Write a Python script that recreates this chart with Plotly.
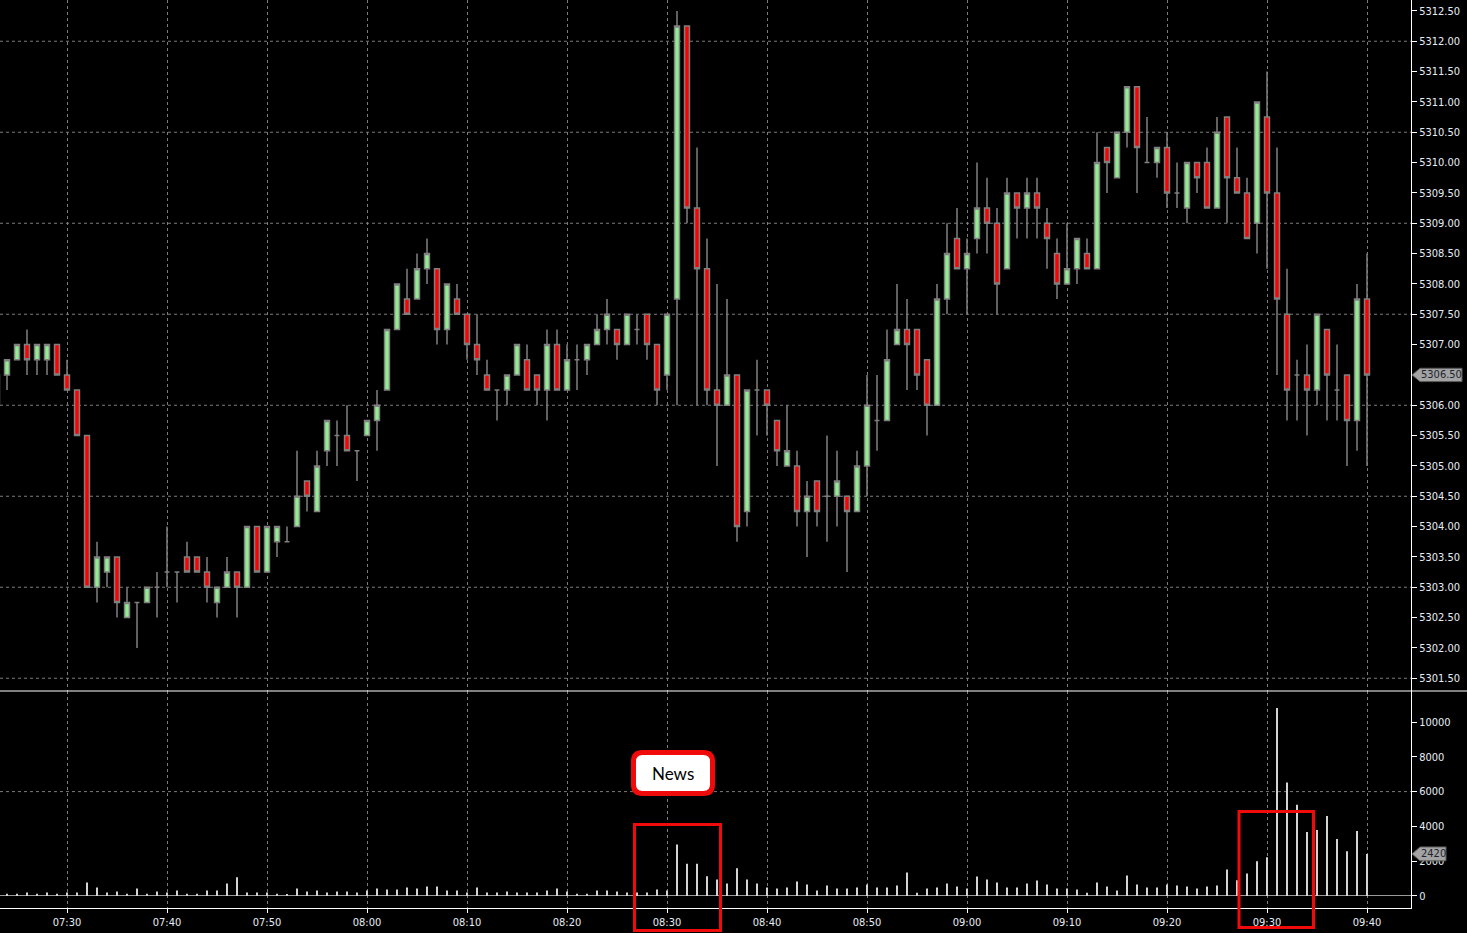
import pandas as pd
import plotly.graph_objects as go

# barras de 1 minuto, 07:23 a 09:40
inicio = "2024-06-05 07:23"

abertura = [
    5306.0, 5306.5, 5306.75, 5307.0, 5306.75, 5306.75, 5307.0,
    5306.5, 5306.25, 5305.5, 5303.0, 5303.25, 5303.5, 5302.5, 5302.75, 5302.75, 5303.0,
    5303.25, 5303.25, 5303.5, 5303.5, 5303.25, 5302.75, 5303.0, 5303.25, 5303.0, 5304.0,
    5303.25, 5303.75, 5303.75, 5304.0, 5304.75, 5304.25, 5305.25, 5305.5, 5305.5, 5305.25,
    5305.5, 5305.75, 5306.25, 5307.25, 5307.75, 5307.75, 5308.25, 5308.25, 5307.25, 5307.75,
    5307.5, 5307.0, 5306.5, 5306.25, 5306.25, 5306.5, 5306.75, 5306.5, 5306.25, 5307.0,
    5306.25, 5306.75, 5306.75, 5307.0, 5307.25, 5307.25, 5307.0, 5307.25, 5307.5, 5307.0,
    5306.5, 5307.75, 5312.25, 5309.25, 5308.25, 5306.25, 5306.0, 5306.5, 5304.25, 5306.25,
    5306.25, 5305.75, 5305.0, 5305.0, 5304.25, 5304.75, 5304.5, 5304.5, 5304.5, 5304.25,
    5305.0, 5305.75, 5305.75, 5307.0, 5307.25, 5307.25, 5306.75, 5306.0, 5307.75, 5308.75,
    5308.25, 5308.75, 5309.25, 5309.0, 5308.25, 5309.5, 5309.25, 5309.5, 5309.0, 5308.5,
    5308.0, 5308.25, 5308.5, 5308.25, 5310.25, 5309.75, 5310.5, 5311.25, 5310.0, 5310.0,
    5310.25, 5309.5, 5309.25, 5310.0, 5310.0, 5309.25, 5310.75, 5309.75, 5309.5, 5309.0,
    5310.75, 5309.5, 5307.5, 5306.5, 5306.5, 5306.25, 5307.25, 5306.25, 5306.5, 5305.75,
    5307.75,
]
maxima = [
    5306.5, 5306.75, 5307.0, 5307.25, 5307.0, 5307.0, 5307.0,
    5306.75, 5306.25, 5305.5, 5303.75, 5303.5, 5303.5, 5303.0, 5302.75, 5303.0, 5303.25,
    5304.0, 5303.25, 5303.75, 5303.5, 5303.5, 5303.0, 5303.5, 5303.25, 5304.0, 5304.0,
    5304.0, 5304.0, 5304.0, 5305.25, 5304.75, 5305.25, 5305.75, 5305.75, 5306.0, 5305.25,
    5305.75, 5306.25, 5307.25, 5308.0, 5308.25, 5308.5, 5308.75, 5308.25, 5308.0, 5308.0,
    5307.5, 5307.5, 5306.75, 5306.25, 5306.5, 5307.0, 5307.0, 5306.5, 5307.25, 5307.25,
    5307.0, 5307.0, 5307.0, 5307.5, 5307.75, 5307.25, 5307.5, 5307.5, 5307.5, 5307.0,
    5307.5, 5312.5, 5312.25, 5310.25, 5308.75, 5308.0, 5307.75, 5306.5, 5306.25, 5306.75,
    5306.25, 5305.75, 5306.0, 5305.25, 5304.75, 5304.75, 5305.5, 5305.25, 5304.5, 5305.25,
    5306.5, 5306.5, 5307.25, 5308.0, 5307.75, 5307.25, 5306.75, 5308.0, 5309.0, 5309.25,
    5308.75, 5310.0, 5309.75, 5309.25, 5309.75, 5309.5, 5309.75, 5309.75, 5309.25, 5308.75,
    5309.0, 5308.75, 5308.75, 5310.5, 5310.25, 5310.5, 5311.25, 5311.25, 5310.75, 5310.25,
    5310.5, 5310.0, 5310.0, 5310.0, 5310.25, 5310.75, 5310.75, 5310.25, 5309.75, 5311.0,
    5311.5, 5310.25, 5308.25, 5306.75, 5307.0, 5307.5, 5307.25, 5307.0, 5306.5, 5308.0,
    5308.5,
]
minima = [
    5306.0, 5306.25, 5306.75, 5306.5, 5306.5, 5306.5, 5306.5,
    5306.25, 5305.5, 5303.0, 5302.75, 5303.0, 5302.5, 5302.5, 5302.0, 5302.75, 5302.5,
    5303.0, 5302.75, 5303.25, 5303.25, 5302.75, 5302.5, 5303.0, 5302.5, 5303.0, 5303.25,
    5303.25, 5303.5, 5303.75, 5304.0, 5304.25, 5304.25, 5305.0, 5305.0, 5305.25, 5304.75,
    5305.5, 5305.25, 5306.25, 5307.25, 5307.5, 5307.75, 5308.0, 5307.0, 5307.0, 5307.5,
    5306.75, 5306.5, 5306.25, 5305.75, 5306.0, 5306.5, 5306.25, 5306.0, 5305.75, 5306.25,
    5306.25, 5306.25, 5306.5, 5307.0, 5307.0, 5306.75, 5307.0, 5307.0, 5306.75, 5306.0,
    5306.25, 5306.0, 5309.0, 5306.0, 5306.0, 5305.0, 5306.0, 5303.75, 5304.0, 5305.5,
    5305.5, 5305.0, 5305.0, 5304.0, 5303.5, 5304.0, 5303.75, 5304.0, 5303.25, 5304.25,
    5304.5, 5305.25, 5305.75, 5307.0, 5306.25, 5306.25, 5305.5, 5306.0, 5307.5, 5308.25,
    5307.5, 5308.5, 5308.5, 5307.5, 5308.25, 5308.75, 5308.75, 5308.75, 5308.25, 5307.75,
    5308.0, 5308.0, 5308.25, 5308.25, 5309.5, 5309.75, 5310.25, 5309.5, 5310.0, 5309.75,
    5309.25, 5309.25, 5309.0, 5309.5, 5309.25, 5309.25, 5309.0, 5309.5, 5308.75, 5308.5,
    5308.25, 5306.5, 5305.75, 5305.75, 5305.5, 5306.0, 5305.75, 5305.75, 5305.0, 5305.25,
    5305.0,
]
fechamento = [
    5306.5, 5306.75, 5307.0, 5306.75, 5307.0, 5307.0, 5306.5,
    5306.25, 5305.5, 5303.0, 5303.5, 5303.5, 5302.75, 5302.75, 5302.75, 5303.0, 5303.0,
    5303.25, 5303.25, 5303.25, 5303.25, 5303.0, 5303.0, 5303.25, 5303.0, 5304.0, 5303.25,
    5304.0, 5304.0, 5303.75, 5304.5, 5304.5, 5305.0, 5305.75, 5305.5, 5305.25, 5305.25,
    5305.75, 5306.0, 5307.25, 5308.0, 5307.5, 5308.25, 5308.5, 5307.25, 5308.0, 5307.5,
    5307.0, 5306.75, 5306.25, 5306.25, 5306.5, 5307.0, 5306.25, 5306.25, 5307.0, 5306.25,
    5306.75, 5306.75, 5307.0, 5307.25, 5307.5, 5307.0, 5307.5, 5307.25, 5307.0, 5306.25,
    5307.5, 5312.25, 5309.25, 5308.25, 5306.25, 5306.0, 5306.5, 5304.0, 5306.25, 5306.25,
    5306.0, 5305.25, 5305.25, 5304.25, 5304.5, 5304.25, 5304.5, 5304.75, 5304.25, 5305.0,
    5306.0, 5305.75, 5306.75, 5307.25, 5307.0, 5306.5, 5306.0, 5307.75, 5308.5, 5308.25,
    5308.5, 5309.25, 5309.0, 5308.0, 5309.5, 5309.25, 5309.5, 5309.25, 5308.75, 5308.0,
    5308.25, 5308.75, 5308.25, 5310.0, 5310.0, 5310.5, 5311.25, 5310.25, 5310.0, 5310.25,
    5309.5, 5309.5, 5310.0, 5309.75, 5309.25, 5310.5, 5309.75, 5309.5, 5308.75, 5311.0,
    5309.5, 5307.75, 5306.25, 5306.5, 5306.25, 5307.5, 5306.5, 5306.25, 5305.75, 5307.75,
    5306.5,
]
volume = [
    150, 136, 136, 195, 136, 195, 136,
    195, 195, 780, 487, 195, 253, 136, 429, 136, 253,
    195, 312, 136, 136, 312, 312, 721, 1072, 195, 195,
    195, 136, 78, 429, 253, 312, 195, 253, 253, 195,
    312, 429, 370, 370, 487, 429, 546, 546, 312, 312,
    195, 487, 195, 195, 253, 195, 195, 195, 312, 429,
    253, 136, 136, 312, 312, 253, 195, 195, 195, 370,
    312, 2963, 1852, 1852, 1130, 955, 721, 1590, 948, 716,
    484, 426, 484, 832, 658, 310, 600, 426, 426, 484,
    658, 484, 484, 600, 1354, 193, 426, 484, 716, 542,
    426, 1122, 948, 774, 484, 484, 716, 890, 658, 426,
    426, 368, 193, 774, 542, 310, 1180, 658, 484, 484,
    658, 600, 542, 426, 542, 600, 1528, 900, 1296, 1992,
    2224, 10812, 6518, 5242, 3675, 3791, 4603, 3269, 2573, 3733,
    2420,
]

precos_eixo = [5301.5 + 0.5 * i for i in range(23)]
volumes_eixo = [0, 2000, 4000, 6000, 8000, 10000]

horarios = pd.date_range(inicio, periods=len(fechamento), freq="min")

fonte_eixo = dict(family="Liberation Sans Narrow, Arial Narrow, DejaVu Sans Condensed, sans-serif",
                  size=11, color="#e6edf5")
grade = "#7c7c7c"
W, H = 1411, 908  # area de plotagem em px
corte = 217 / H   # divisao entre preco e volume

fig = go.Figure()
fig.add_trace(go.Candlestick(
    x=horarios, open=abertura, high=maxima, low=minima, close=fechamento,
    increasing=dict(fillcolor="#90ee90", line=dict(color="#808080", width=1.5)),
    decreasing=dict(fillcolor="#ff0000", line=dict(color="#808080", width=1.5)),
    whiskerwidth=0, xaxis="x", yaxis="y", hoverinfo="x+y",
))
fig.add_trace(go.Bar(
    x=horarios, y=volume, width=12000, marker_color="#d4d4d4",
    marker_line_width=0, xaxis="x", yaxis="y2",
))

ultimo = fechamento[-1]
preco_ticks = [p for p in precos_eixo if p != ultimo]

fig.update_layout(
    width=1467, height=933, autosize=False,
    paper_bgcolor="black", plot_bgcolor="black",
    showlegend=False,
    margin=dict(l=0, r=56, t=0, b=25),
    xaxis=dict(
        domain=[0, 1], anchor="y2", type="date",
        range=["2024-06-05 07:23:18", "2024-06-05 09:44:24"],
        rangeslider=dict(visible=False),
        tickformat="%H:%M", tick0="2024-06-05 07:30", dtick=600000,
        showgrid=True, gridcolor=grade, griddash="dot", gridwidth=1,
        ticks="outside", ticklen=4, tickcolor="white",
        showline=True, linecolor="white", linewidth=1,
        tickfont=fonte_eixo, zeroline=False,
    ),
    yaxis=dict(
        domain=[corte, 1], side="right", anchor="x",
        range=[5301.29, 5312.68],
        tickvals=preco_ticks, ticktext=[f"{p:.2f}" for p in preco_ticks],
        ticks="outside", ticklen=5, tickcolor="white",
        showgrid=False, zeroline=False,
        showline=True, linecolor="white", linewidth=1,
        tickfont=fonte_eixo,
    ),
    yaxis2=dict(
        domain=[0, corte], side="right", anchor="x",
        range=[-690, 11782],
        tickvals=volumes_eixo, ticktext=[str(v) for v in volumes_eixo],
        ticks="outside", ticklen=5, tickcolor="white",
        showgrid=False, zeroline=True, zerolinecolor="#9a9a9a", zerolinewidth=1,
        showline=True, linecolor="white", linewidth=1,
        tickfont=fonte_eixo,
    ),
)

# linhas de grade horizontais a cada 1,5 ponto
for p in precos_eixo[::3]:
    fig.add_shape(type="line", xref="paper", yref="y", x0=0, x1=1, y0=p, y1=p,
                  line=dict(color=grade, width=1, dash="dot"), layer="below")
fig.add_shape(type="line", xref="paper", yref="y2", x0=0, x1=1, y0=6000, y1=6000,
              line=dict(color=grade, width=1, dash="dot"), layer="below")

# separador entre os paineis
fig.add_shape(type="line", xref="paper", yref="paper", x0=0, x1=1467 / W, y0=corte, y1=corte,
              line=dict(color="white", width=1))

# etiquetas do ultimo valor
def etiqueta(yref, valor, meia, fim, texto):
    fig.add_shape(
        type="path", xref="paper", yref=yref,
        path=(f"M {1412 / W},{valor} L {1420 / W},{valor + meia} L {fim / W},{valor + meia} "
              f"L {fim / W},{valor - meia} L {1420 / W},{valor - meia} Z"),
        fillcolor="#a3a3a3", line=dict(color="#5a5a5a", width=1),
    )
    fig.add_annotation(x=1419 / W, y=valor, xref="paper", yref=yref, text=texto,
                       showarrow=False, xanchor="left", yanchor="middle",
                       font=dict(family=fonte_eixo["family"], size=11, color="#1c2430"))

etiqueta("y", ultimo, 0.11, 1462, f"{ultimo:.2f}")
etiqueta("y2", volume[-1], 400, 1446, str(volume[-1]))

# caixa "News" com cantos arredondados
def px(x, y):
    return f"{x / W},{(H - y) / H}"

x0, x1, y0, y1, r = 633.5, 712.5, 752.5, 793.5, 9
caminho = (f"M {px(x0 + r, y0)} L {px(x1 - r, y0)} Q {px(x1, y0)} {px(x1, y0 + r)} "
           f"L {px(x1, y1 - r)} Q {px(x1, y1)} {px(x1 - r, y1)} L {px(x0 + r, y1)} "
           f"Q {px(x0, y1)} {px(x0, y1 - r)} L {px(x0, y0 + r)} Q {px(x0, y0)} {px(x0 + r, y0)} Z")
fig.add_shape(type="path", xref="paper", yref="paper", path=caminho,
              fillcolor="white", line=dict(color="#f00a0a", width=5))
fig.add_annotation(x=(x0 + x1) / 2 / W, y=(H - (y0 + y1) / 2) / H, xref="paper", yref="paper",
                   text="News", showarrow=False, xanchor="center", yanchor="middle",
                   font=dict(family="Lato, Open Sans, sans-serif", size=17, color="black"))

# destaques de volume
for a, b, base, topo in [("2024-06-05 08:26:45", "2024-06-05 08:35:21", 930.5, 824.5),
                         ("2024-06-05 09:27:12", "2024-06-05 09:34:39", 927.5, 811.5)]:
    fig.add_shape(type="rect", xref="x", yref="paper", x0=a, x1=b,
                  y0=(H - base) / H, y1=(H - topo) / H,
                  line=dict(color="#f00a0a", width=3), fillcolor="rgba(0,0,0,0)")

# sem a margem padrao do navegador e sem a barra de ferramentas
fig.write_html("out.html", config={"displayModeBar": False},
               post_script="document.body.style.margin='0px';")
